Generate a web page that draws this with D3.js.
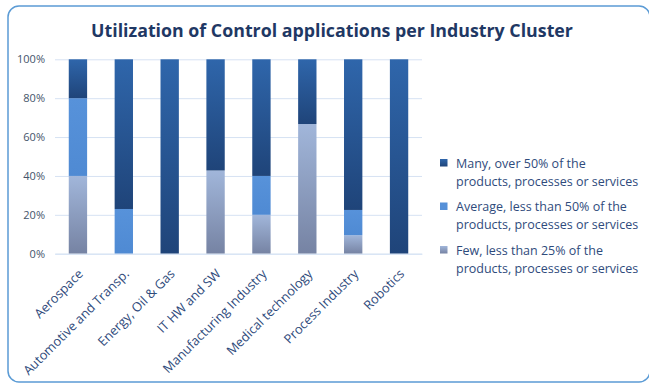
<!DOCTYPE html>
<html><head><meta charset="utf-8">
<script src="https://cdn.jsdelivr.net/npm/d3@7"></script>
<style>body{margin:0;background:#fff}svg{display:block}</style>
</head><body><svg id="c" width="649" height="384"></svg>
<script>
const categories = ["Aerospace","Automotive and Transp.","Energy, Oil & Gas","IT HW and SW","Manufacturing Industry","Medical technology","Process Industry","Robotics"];
const few     = [40, 0, 0, 42.8, 20, 66.7, 9.5, 0];
const average = [40, 23, 0, 0, 20, 0, 13, 0];
const many    = [20, 77, 100, 57.2, 60, 33.3, 77.5, 100];
const yTicks  = [0, 20, 40, 60, 80, 100];
const seriesNames = ["Many, over 50% of the|products, processes or services","Average, less than 50% of the|products, processes or services","Few, less than 25% of the|products, processes or services"];

const svg = d3.select("#c");
const font = "'Open Sans', 'Noto Sans', sans-serif";
const defs = svg.append("defs");
function grad(id, c1, c2){
  const g = defs.append("linearGradient").attr("id", id).attr("x1",0).attr("y1",0).attr("x2",0).attr("y2",1);
  g.append("stop").attr("offset","0%").attr("stop-color",c1);
  g.append("stop").attr("offset","100%").attr("stop-color",c2);
}
grad("gMany", "#2f66ab", "#1f4479");
grad("gAvg", "#5792da", "#4f8ad3");
grad("gFew", "#a1b6da", "#7683a3");

svg.append("rect").attr("x",8).attr("y",6).attr("width",642).attr("height",376).attr("rx",11)
  .attr("fill","#fff").attr("stroke","#5b9bd5").attr("stroke-width",1.5);

svg.append("text").attr("x",332).attr("y",37).attr("text-anchor","middle")
  .attr("font-family",font).attr("font-weight","bold").attr("font-size",17.8).attr("fill","#1f3864")
  .text("Utilization of Control applications per Industry Cluster");

const x = d3.scaleBand().domain(categories).range([55,422]).paddingInner(0.6).paddingOuter(0.3);
const y = d3.scaleLinear().domain([0,100]).range([253.7,59.3]);

const yAxis = svg.append("g").attr("transform","translate(55,0)")
  .call(d3.axisLeft(y).tickValues(yTicks).tickFormat(d=>d+"%").tickSize(-367).tickPadding(10));
yAxis.select(".domain").remove();
yAxis.selectAll("line").attr("stroke","#d6e2f3").attr("stroke-width",1);
yAxis.selectAll("text").attr("font-family",font).attr("font-size",11).attr("fill","#44546a");

const data = categories.map((c,i)=>({c, few:few[i], average:average[i], many:many[i]}));
const stack = d3.stack().keys(["few","average","many"])(data);
const fills = {few:"url(#gFew)", average:"url(#gAvg)", many:"url(#gMany)"};
stack.forEach(s=>{
  svg.append("g").selectAll("rect").data(s).join("rect")
    .attr("x", d=>x(d.data.c)).attr("width", x.bandwidth())
    .attr("y", d=>y(d[1])).attr("height", d=>y(d[0])-y(d[1]))
    .attr("fill", fills[s.key]);
});

const xAxis = svg.append("g").attr("transform","translate(0,253.7)")
  .call(d3.axisBottom(x).tickSize(0).tickPadding(0));
xAxis.select(".domain").attr("stroke","#d6e2f3");
xAxis.selectAll("text").attr("font-family",font).attr("font-size",12.8).attr("fill","#2f4b7c")
  .attr("text-anchor","end").attr("dy",0)
  .attr("transform","translate(6,21) rotate(-45)");

const legendColors = ["url(#gMany)","#5590d8","url(#gFew)"];
const lg = svg.append("g");
seriesNames.forEach((n,i)=>{
  const yy = 163 + i*43.5;
  lg.append("rect").attr("x",440).attr("y",yy-4).attr("width",7.5).attr("height",7.5).attr("fill",legendColors[i]);
  const lines = n.split("|");
  lg.append("text").attr("x",456).attr("y",yy+4.5).attr("font-family",font).attr("font-size",12.5).attr("fill","#2f4b7c").text(lines[0]);
  lg.append("text").attr("x",456).attr("y",yy+22.5).attr("font-family",font).attr("font-size",12.5).attr("fill","#2f4b7c").text(lines[1]);
});
</script></body></html>
